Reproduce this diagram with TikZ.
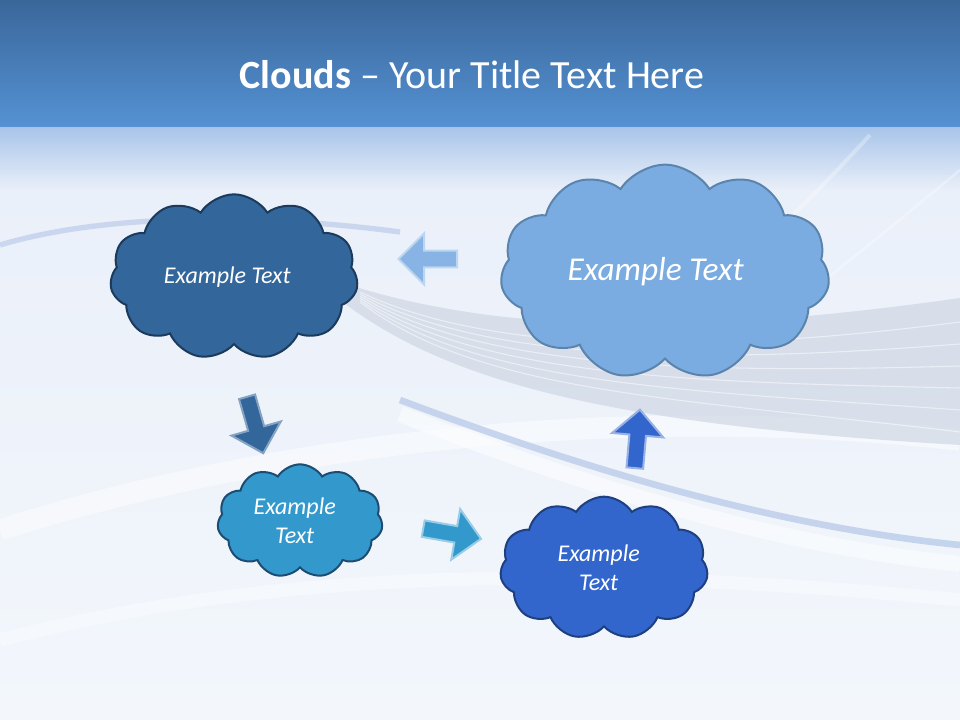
\documentclass[tikz,border=0pt]{standalone}
\usepackage{fontspec}
\setmainfont{Carlito}
\usetikzlibrary{shapes.symbols,shapes.arrows}

\definecolor{bandtop}{HTML}{3A679A}
\definecolor{bandbot}{HTML}{5592D4}
\definecolor{fadetop}{HTML}{A9C5EA}
\definecolor{bodytop}{HTML}{E9EFF9}
\definecolor{bodymid}{HTML}{DCE6F4}
\definecolor{bodybot}{HTML}{F3F7FC}
\definecolor{wavegray}{HTML}{C3CCDC}
\definecolor{waveblue}{HTML}{B4C6E8}
\definecolor{darkcloud}{HTML}{33669A}
\definecolor{darkcloudline}{HTML}{1B3A5C}
\definecolor{lightcloud}{HTML}{7AACE1}
\definecolor{lightcloudline}{HTML}{5B84AD}
\definecolor{skycloud}{HTML}{3399CC}
\definecolor{skycloudline}{HTML}{1D4C73}
\definecolor{royalcloud}{HTML}{3366CC}
\definecolor{royalcloudline}{HTML}{1E3F80}

\begin{document}
\begin{tikzpicture}[x=0.75pt,y=-0.75pt,
    puff/.style={cloud, cloud puffs=11, cloud puff arc=115, cloud ignores aspect,
      draw, line width=1.5pt, inner sep=0pt, text=white, align=center,
      font=\itshape\fontsize{18}{22}\selectfont},
    blockarrow/.style={single arrow, single arrow head extend=13pt, inner sep=5.5pt,
      minimum height=44pt, line width=1.5pt}]
      \useasboundingbox (0,0) rectangle (960,720);

      %% background
      \shade[top color=bodytop, middle color=bodymid, bottom color=bodybot] (0,128) rectangle (960,720);
      \shade[top color=bandtop, bottom color=bandbot] (0,0) rectangle (960,128);
      \shade[top color=fadetop, bottom color=bodytop] (0,128) rectangle (960,190);

      % waves
      \draw[white, line width=16pt, opacity=0.45] (0,530) .. controls (250,450) and (600,400) .. (960,440);
      \fill[wavegray, opacity=0.5] (340,282) .. controls (500,335) and (700,335) .. (960,298)
        -- (960,445) .. controls (620,425) and (450,385) .. (340,300) -- cycle;
      \foreach \i in {1,...,6}
        \draw[white, opacity=0.5, line width=0.8pt] (360,290+2*\i) .. controls (480,340+9*\i) and (680,350+8*\i) .. (960,300+22*\i);
      \draw[white, line width=12pt, opacity=0.5] (400,414) .. controls (560,477) and (760,544) .. (960,564);
      \draw[waveblue, line width=5pt, opacity=0.7] (400,400) .. controls (560,460) and (760,525) .. (960,545);
      \draw[waveblue, line width=4pt, opacity=0.6] (0,245) .. controls (100,215) and (250,212) .. (400,232);
      \draw[white, line width=10pt, opacity=0.3] (0,640) .. controls (250,575) and (550,560) .. (960,600);
      \draw[white, line width=3pt, opacity=0.3] (870,135) .. controls (810,200) and (770,240) .. (710,285);
      \draw[white, line width=2pt, opacity=0.3] (960,170) .. controls (900,220) and (850,260) .. (800,300);

      %% title
      \node[text=white, font=\fontsize{30}{36}\selectfont] (title) at (472,75)
        {\textbf{Clouds} -- Your Title Text Here};

      %% clouds
      \node[puff, fill=darkcloud, draw=darkcloudline, minimum width=186pt, minimum height=124pt] (ex1) at (234,277) {Example Text\kern10pt};
      \node[puff, fill=lightcloud, draw=lightcloudline, minimum width=247pt, minimum height=161pt,
        font=\itshape\fontsize{25}{30}\selectfont] (ex2) at (665,272) {Example Text\kern14pt};
      \node[puff, fill=skycloud, draw=skycloudline, minimum width=124pt, minimum height=85pt] (ex3) at (300,521) {Example\kern8pt\\Text\kern8pt};
      \node[puff, fill=royalcloud, draw=royalcloudline, minimum width=156pt, minimum height=107pt] (ex4) at (604,568) {Example\kern8pt\\Text\kern8pt};

      %% arrows
      \node[blockarrow, fill=lightcloud!90!white, draw=lightcloud!50!white, rotate=180] (ar21) at (432,259) {};
      \node[blockarrow, fill=darkcloud, draw=darkcloud!60!white, rotate=-74] (ar13) at (254,421) {};
      \node[blockarrow, fill=skycloud, draw=skycloud!50!white, rotate=-10] (ar34) at (448,533) {};
      \node[blockarrow, fill=royalcloud, draw=royalcloud!50!white, rotate=85] (ar42) at (637,443) {};

   \end{tikzpicture}
\end{document}
